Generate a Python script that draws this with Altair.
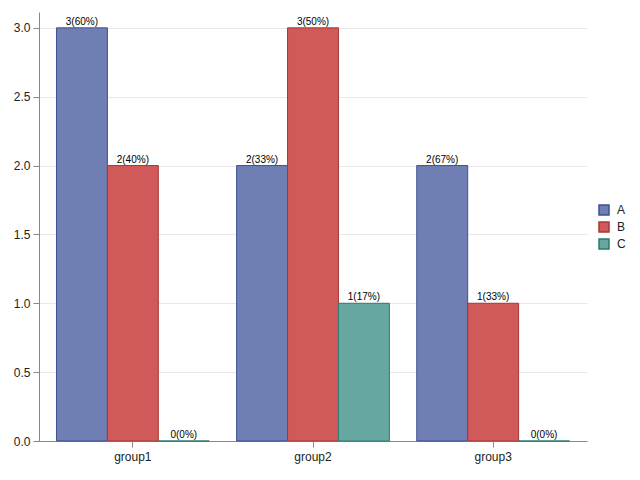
import altair as alt
import pandas as pd

groups = ["group1", "group1", "group1", "group2", "group2", "group2", "group3", "group3", "group3"]
cats = ["A", "B", "C", "A", "B", "C", "A", "B", "C"]
values = [3, 2, 0, 2, 3, 1, 2, 1, 0]
labels = ["3(60%)", "2(40%)", "0(0%)", "2(33%)", "3(50%)", "1(17%)", "2(67%)", "1(33%)", "0(0%)"]

df = pd.DataFrame({"group": groups, "cat": cats, "value": values, "label": labels})

fills = ["#6F7EB3", "#D05A5A", "#66A8A1"]
strokes = ["#3F4F93", "#A83636", "#2B7A6E"]

x = alt.X("group:N", title=None,
          scale=alt.Scale(paddingInner=0.152, paddingOuter=0.097),
          axis=alt.Axis(labelAngle=0, labelFontSize=12, labelFont="Liberation Sans",
                        labelColor="#222", tickColor="#888", tickSize=6, domainColor="#888",
                        labelPadding=4, grid=False))
xo = alt.XOffset("cat:N", scale=alt.Scale(paddingInner=0, paddingOuter=0))
y = alt.Y("value:Q", title=None,
          scale=alt.Scale(domain=[0, 3.115], nice=False),
          axis=alt.Axis(values=[0, 0.5, 1, 1.5, 2, 2.5, 3], format=".1f", labelFontSize=12,
                        labelFont="Liberation Sans", labelColor="#222", tickColor="#888",
                        tickSize=6, domainColor="#888", gridColor="#E8E8E8", labelPadding=3))

leg = alt.Legend(title=None, orient="none", legendX=559, legendY=192,
                 symbolType="square", symbolSize=100, symbolStrokeWidth=1.5,
                 labelFontSize=12, labelFont="Liberation Sans", labelOffset=7,
                 labelColor="#222", padding=0, rowPadding=1)

bars = alt.Chart(df).mark_bar(strokeWidth=1).encode(
    x=x, xOffset=xo, y=y,
    fill=alt.Fill("cat:N", scale=alt.Scale(domain=["A", "B", "C"], range=fills), legend=leg),
    stroke=alt.Stroke("cat:N", scale=alt.Scale(domain=["A", "B", "C"], range=strokes), legend=leg),
)

text = alt.Chart(df).mark_text(baseline="bottom", dy=-1, fontSize=10,
                               font="Liberation Sans", color="#000").encode(
    x=x, xOffset=xo, y=y, text="label:N")

chart = (bars + text).properties(
    width=548, height=429,
    autosize=alt.AutoSizeParams(type="none"),
    padding={"left": 31, "top": 4, "right": 40, "bottom": 28},
).configure_view(stroke=None).configure_axis(domainWidth=1, tickWidth=1)

chart.save("out.html", embed_options={"renderer": "svg", "actions": False})
